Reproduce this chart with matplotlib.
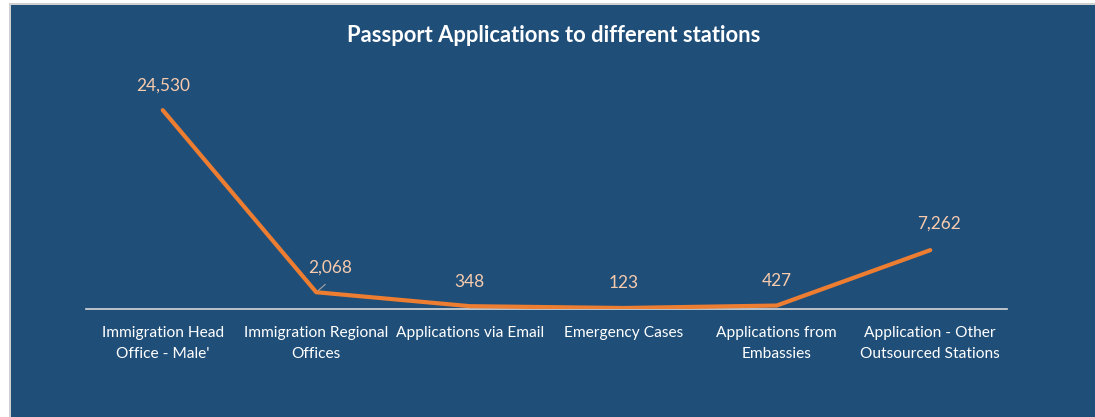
import matplotlib.pyplot as plt
import matplotlib.patches as patches

categories = ["Immigration Head\nOffice - Male'", "Immigration Regional\nOffices",
              "Applications via Email", "Emergency Cases",
              "Applications from\nEmbassies", "Application - Other\nOutsourced Stations"]
values = [24530, 2068, 348, 123, 427, 7262]
label_text = ["24,530", "2,068", "348", "123", "427", "7,262"]

bg = '#1F4E79'
line_color = '#ED7D31'
label_color = '#F8CBAD'

plt.rcParams['font.family'] = ['Lato', 'DejaVu Sans']

fig = plt.figure(figsize=(10.95, 4.17), dpi=100)
fig.patch.set_facecolor('white')

# blue chart area with thin grey frame on the top/left
fig.patches.append(patches.Rectangle((9 / 1095, 0), 1, 1 - 3 / 417, transform=fig.transFigure,
                                     facecolor='#D0D0D0', edgecolor='none', zorder=0))
fig.patches.append(patches.Rectangle((11 / 1095, 0), 1, 1 - 5 / 417, transform=fig.transFigure,
                                     facecolor=bg, edgecolor='none', zorder=0))

ax = fig.add_axes([86 / 1095, 108 / 417, 921 / 1095, 227 / 417])
ax.set_zorder(2)
ax.set_facecolor('none')

x = list(range(len(categories)))
ax.plot(x, values, color=line_color, linewidth=3, solid_capstyle='round', solid_joinstyle='round', zorder=3)

ax.set_xlim(-0.5, len(categories) - 0.5)
ax.set_ylim(0, 28000)

for s in ['top', 'right', 'left']:
    ax.spines[s].set_visible(False)
ax.spines['bottom'].set_color('#D9D9D9')
ax.spines['bottom'].set_linewidth(1.2)
ax.set_yticks([])
ax.set_xticks(x)
ax.set_xticklabels(categories, color='white', fontsize=11.2, linespacing=1.65)
ax.tick_params(axis='x', length=0, pad=12)

# data labels
offsets = [(0, 12), (10, 12), (0, 12), (0, 12), (0, 12), (6, 13)]
for i, v in enumerate(values):
    dx, dy = offsets[i]
    ax.annotate(label_text[i], (i, v), xytext=(dx, dy), textcoords='offset points',
                ha='center', va='bottom', color=label_color, fontsize=12.4)

# leader line for 2,068
ax.annotate('', (1, values[1]), xytext=(8, 7), textcoords='offset points',
            arrowprops=dict(arrowstyle='-', color='#A6A6A6', lw=0.8))

t = fig.text(0.506, 1 - 35 / 417, 'Passport Applications to different stations', ha='center', va='center',
             color='white', fontsize=15.8, fontweight='bold')
t.set_zorder(3)

fig.savefig('out.png', dpi=100, facecolor=fig.get_facecolor())
